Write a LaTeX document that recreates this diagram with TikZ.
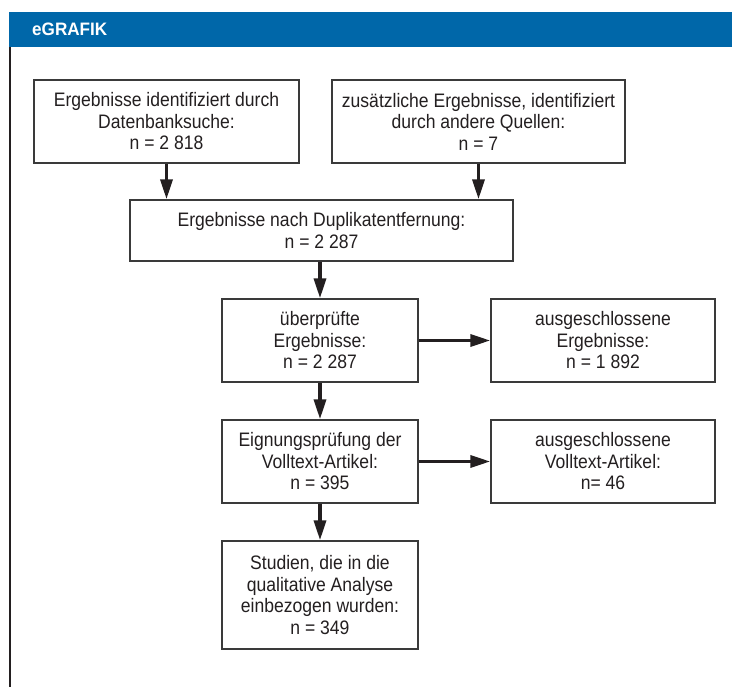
\documentclass[tikz,border=0pt]{standalone}
\usepackage{fontspec}
\setmainfont{Liberation Sans}
\newfontfamily\boxfont[FakeStretch=0.9]{Liberation Sans}
\newfontfamily\headfont[FakeStretch=0.95]{Liberation Sans}
\usetikzlibrary{positioning,arrows.meta}
\definecolor{egblue}  {HTML}{0067A9}
\definecolor{inkdark} {HTML}{231F20}
\definecolor{rulegrey}{HTML}{3A3A3A}
\tikzset{
  flow/.style  ={draw=rulegrey, line width=1.4pt, fill=white,
                 align=center, inner sep=0pt, text=inkdark,
                 font=\boxfont\fontsize{19.5}{21.5}\selectfont},
  ar/.style    ={-{Triangle[length=20pt,width=12pt]}, draw=inkdark,
                 line width=3.5pt},
  banner/.style={fill=egblue, draw=none},
  bantxt/.style={text=white, inner sep=0pt, anchor=west,
                 font=\headfont\bfseries\fontsize{18}{20}\selectfont}
}

\begin{document}
\begin{tikzpicture}[x=1pt,y=-1pt]
\useasboundingbox (0,0) rectangle (732,687);
\fill[banner] (9,12) rectangle (732,47);
\node[bantxt] (title) at (32,29.5) {eGRAFIK};
\draw[inkdark, line width=2.2pt] (10,47) -- (10,687);

\node[flow, minimum width=265pt, minimum height=83pt] (src1) at (166.5,121.5)
  {Ergebnisse identifiziert durch\\ Datenbanksuche:\\ n = 2 818};
\node[flow, minimum width=293pt, minimum height=83pt] (src2) at (478.5,121.5)
  {zusätzliche Ergebnisse, identifiziert\\ durch andere Quellen:\\ n = 7};
\node[flow, minimum width=383pt, minimum height=61pt] (dup) at (321.5,230.5)
  {Ergebnisse nach Duplikatentfernung:\\ n = 2 287};
\node[flow, minimum width=196pt, minimum height=83pt] (scr) at (320,340.5)
  {überprüfte\\ Ergebnisse:\\ n = 2 287};
\node[flow, minimum width=224pt, minimum height=83pt] (exc1) at (603,340.5)
  {ausgeschlossene\\ Ergebnisse:\\ n = 1 892};
\node[flow, minimum width=196pt, minimum height=83pt] (full) at (320,461.5)
  {Eignungsprüfung der\\ Volltext-Artikel:\\ n = 395};
\node[flow, minimum width=224pt, minimum height=83pt] (exc2) at (603,461.5)
  {ausgeschlossene\\ Volltext-Artikel:\\ n= 46};
\node[flow, minimum width=196pt, minimum height=108pt] (incl) at (320,595)
  {Studien, die in die\\ qualitative Analyse\\ einbezogen wurden:\\ n = 349};

\draw[ar] (src1.south) -- (src1.south |- dup.north);
\draw[ar] (src2.south) -- (src2.south |- dup.north);
\draw[ar] (dup.south -| scr.north) -- (scr.north);
\draw[ar] (scr) -- (exc1);
\draw[ar] (scr) -- (full);
\draw[ar] (full) -- (exc2);
\draw[ar] (full) -- (incl);
\end{tikzpicture}
\end{document}
